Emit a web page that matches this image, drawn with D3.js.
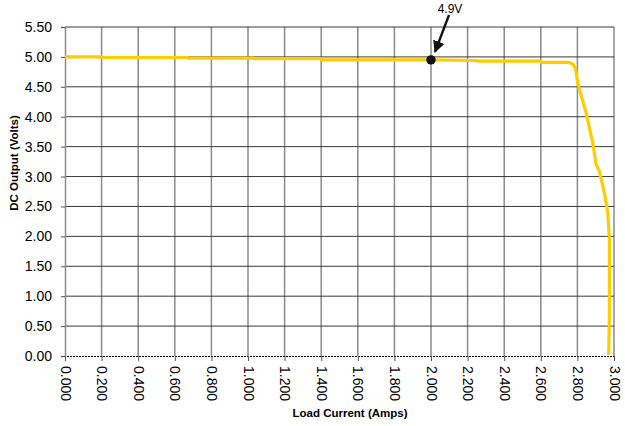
<!DOCTYPE html>
<html><head><meta charset="utf-8">
<script src="https://cdn.jsdelivr.net/npm/d3@7"></script>
<style>body{margin:0;background:#fff;font-family:Arial,"Liberation Sans",sans-serif}</style>
</head><body>
<svg id="c" width="625" height="426"></svg>
<script>
const current = [0.000,0.200,0.201,0.670,0.671,1.030,1.031,1.400,1.401,2.000,2.250,2.251,2.600,2.601,2.750,2.775,2.790,2.802,2.848,2.884,2.902,2.920,2.948,2.966,2.975,2.975,2.971];
const voltage = [5.00,5.00,4.99,4.99,4.98,4.98,4.97,4.97,4.95,4.95,4.94,4.93,4.93,4.91,4.91,4.88,4.80,4.56,4.06,3.56,3.20,3.09,2.72,2.39,1.94,0.72,0.02];
const xTicks = [0,0.2,0.4,0.6,0.8,1.0,1.2,1.4,1.6,1.8,2.0,2.2,2.4,2.6,2.8,3.0];
const yTicks = [0,0.5,1,1.5,2,2.5,3,3.5,4,4.5,5,5.5];
const markerX = 2.0, markerY = 4.95, markerLabel = "4.9V";

const svg = d3.select("#c");
const L=65,R=614,T=27,B=356;
const x = d3.scaleLinear().domain([0,3]).range([L,R]);
const y = d3.scaleLinear().domain([0,5.5]).range([B,T]);

// vertical grid
svg.append("g").selectAll("line").data(xTicks.slice(1)).join("line")
  .attr("x1",d=>x(d)).attr("x2",d=>x(d)).attr("y1",T).attr("y2",B)
  .attr("stroke","#8a8a8a").attr("stroke-width",1.5);
// horizontal grid
svg.append("g").selectAll("line").data(yTicks.slice(1)).join("line")
  .attr("x1",L).attr("x2",R).attr("y1",d=>y(d)).attr("y2",d=>y(d))
  .attr("stroke","#3a3a3a").attr("stroke-width",1);

// y axis
const ya = svg.append("g").attr("transform",`translate(${L},0)`)
  .call(d3.axisLeft(y).tickValues(yTicks).tickFormat(d3.format(".2f")).tickSize(4).tickPadding(9));
ya.select(".domain").attr("stroke","#8a8a8a").attr("stroke-width",1.5);
ya.selectAll(".tick line").attr("stroke","#555");
ya.selectAll("text").attr("font-size",14).attr("font-family","Arial, Liberation Sans").attr("fill","#000");

// x axis
const xa = svg.append("g").attr("transform",`translate(0,${B})`)
  .call(d3.axisBottom(x).tickValues(xTicks).tickFormat(d3.format(".3f")).tickSize(5));
xa.select(".domain").attr("stroke","#000").attr("stroke-dasharray","2,1");
xa.selectAll(".tick line").attr("stroke","#555");
xa.selectAll("text").attr("font-size",14).attr("font-family","Arial, Liberation Sans").attr("fill","#000")
  .attr("transform","rotate(90)").attr("text-anchor","start").attr("x",10).attr("y",0).attr("dy","0.35em");

// curve
svg.append("path").datum(current.map((c,i)=>[c,voltage[i]]))
  .attr("d",d3.line().x(d=>x(d[0])).y(d=>y(d[1])))
  .attr("fill","none").attr("stroke","#FFCC00").attr("stroke-width",3.2).attr("stroke-linejoin","round");

// marker
svg.append("circle").attr("cx",x(markerX)).attr("cy",y(markerY)).attr("r",4.7).attr("fill","#111");
svg.append("defs").append("marker").attr("id","ah").attr("viewBox","0 0 10 10").attr("refX",9).attr("refY",5)
  .attr("markerWidth",5).attr("markerHeight",5).attr("orient","auto")
  .append("path").attr("d","M0,0L10,5L0,10z").attr("fill","#111");
svg.append("line").attr("x1",x(markerX)+18).attr("y1",15).attr("x2",x(markerX)+4).attr("y2",y(markerY)-8)
  .attr("stroke","#111").attr("stroke-width",2.4).attr("marker-end","url(#ah)");
svg.append("text").attr("x",x(markerX)+19).attr("y",13).attr("text-anchor","middle")
  .attr("font-size",12).text(markerLabel);

// titles
svg.append("text").attr("x",350).attr("y",417).attr("text-anchor","middle")
  .attr("font-size",11.5).attr("font-weight","bold").text("Load Current (Amps)");
svg.append("text").attr("transform","translate(18,163) rotate(-90)").attr("text-anchor","middle")
  .attr("font-size",11.5).attr("font-weight","bold").text("DC Output (Volts)");
</script>
</body></html>
